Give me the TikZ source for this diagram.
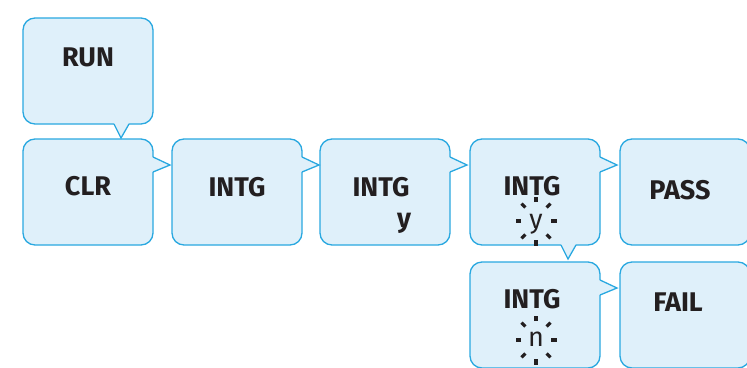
\documentclass[tikz,border=0pt]{standalone}
\usepackage{fontspec}
\setmainfont{Fira Sans}
\usetikzlibrary{positioning}
\definecolor{bubblefill}{RGB}{223,240,250}
\definecolor{bubbleline}{RGB}{41,168,224}
\definecolor{ink}{RGB}{35,31,32}

\begin{document}
\begin{tikzpicture}[
bubble/.style={rectangle,
  rounded corners=12pt,
  fill=bubblefill,
  draw=bubbleline,
  line width=1.3pt,
  minimum width=130pt,
  minimum height=106pt,
  inner sep=0pt,
  outer sep=0pt
},
word/.style={anchor=base, text=ink, inner sep=0pt,
  font=\fontsize{27}{30}\selectfont\bfseries},
thinword/.style={word, font=\fontsize{27}{30}\selectfont},
ray/.style={line width=3.2pt, ink},
beak/.style={draw=bubbleline, line width=1.3pt},
node distance=15pt and 19pt
]
\path[use as bounding box] (0,0) rectangle (747pt,-367pt);
\clip (0,0) rectangle (747pt,-367pt);

% the bubbles
\node[bubble] (clr) at (88pt,-192pt) {};
\node[bubble, above=15pt of clr] (run) {};
\node[bubble, right=19pt of clr] (intga) {};
\node[bubble, right=18pt of intga] (intgb) {};
\node[bubble, right=20pt of intgb] (intgc) {};
\node[bubble, right=20pt of intgc] (pass) {};
\node[bubble, below=17pt of intgc] (intgd) {};
\node[bubble, right=20pt of intgd] (fail) {};

% pointers
\foreach \b in {clr,intga,intgb,intgc,intgd} {
  \fill[bubblefill] ([xshift=-1pt,yshift=-18pt]\b.north east) -- ([xshift=17pt,yshift=-26pt]\b.north east)
    -- ([xshift=-1pt,yshift=-33pt]\b.north east) -- cycle;
  \draw[beak] ([yshift=-18pt]\b.north east) -- ([xshift=17pt,yshift=-26pt]\b.north east)
    -- ([yshift=-33pt]\b.north east);
}
\foreach \b in {run,intgc} {
  \fill[bubblefill] ([xshift=91pt,yshift=1pt]\b.south west) -- ([xshift=98pt,yshift=-14pt]\b.south west)
    -- ([xshift=106pt,yshift=1pt]\b.south west) -- cycle;
  \draw[beak] ([xshift=91pt]\b.south west) -- ([xshift=98pt,yshift=-14pt]\b.south west)
    -- ([xshift=106pt]\b.south west);
}

% texts
\node[word] (runtxt) at ([yshift=-48pt]run.north) {RUN};
\node[word] (clrtxt) at ([yshift=-56pt]clr.north) {CLR};
\node[word] (intgatxt) at ([yshift=-57pt]intga.north) {INTG};
\node[word] (intgbtxt) at ([xshift=-4pt,yshift=-57pt]intgb.north) {INTG};
\node[word] (yesb) at ([xshift=19pt,yshift=-88pt]intgb.north) {y};
\node[word] (intgctxt) at ([xshift=-3pt,yshift=-56pt]intgc.north) {INTG};
\node[thinword] (yesc) at ([xshift=1pt,yshift=-89pt]intgc.north) {y};
\node[word] (passtxt) at ([xshift=-5pt,yshift=-60pt]pass.north) {PASS};
\node[word] (intgdtxt) at ([xshift=-3pt,yshift=-46pt]intgd.north) {INTG};
\node[thinword] (nod) at ([xshift=1pt,yshift=-84pt]intgd.north) {n};
\node[word] (failtxt) at ([xshift=-7pt,yshift=-49pt]fail.north) {FAIL};

% bursts round the answers
\coordinate (ysun) at ([xshift=1pt,yshift=-82pt]intgc.north);
\coordinate (nsun) at ([xshift=1pt,yshift=-78pt]intgd.north);
\foreach \c in {ysun,nsun}
  \foreach \a in {0,45,...,315}
    \draw[ray] ([shift={(\a:15pt and 19pt)}]\c) -- ([shift={(\a:20.5pt and 24.5pt)}]\c);
\end{tikzpicture}
\end{document}
